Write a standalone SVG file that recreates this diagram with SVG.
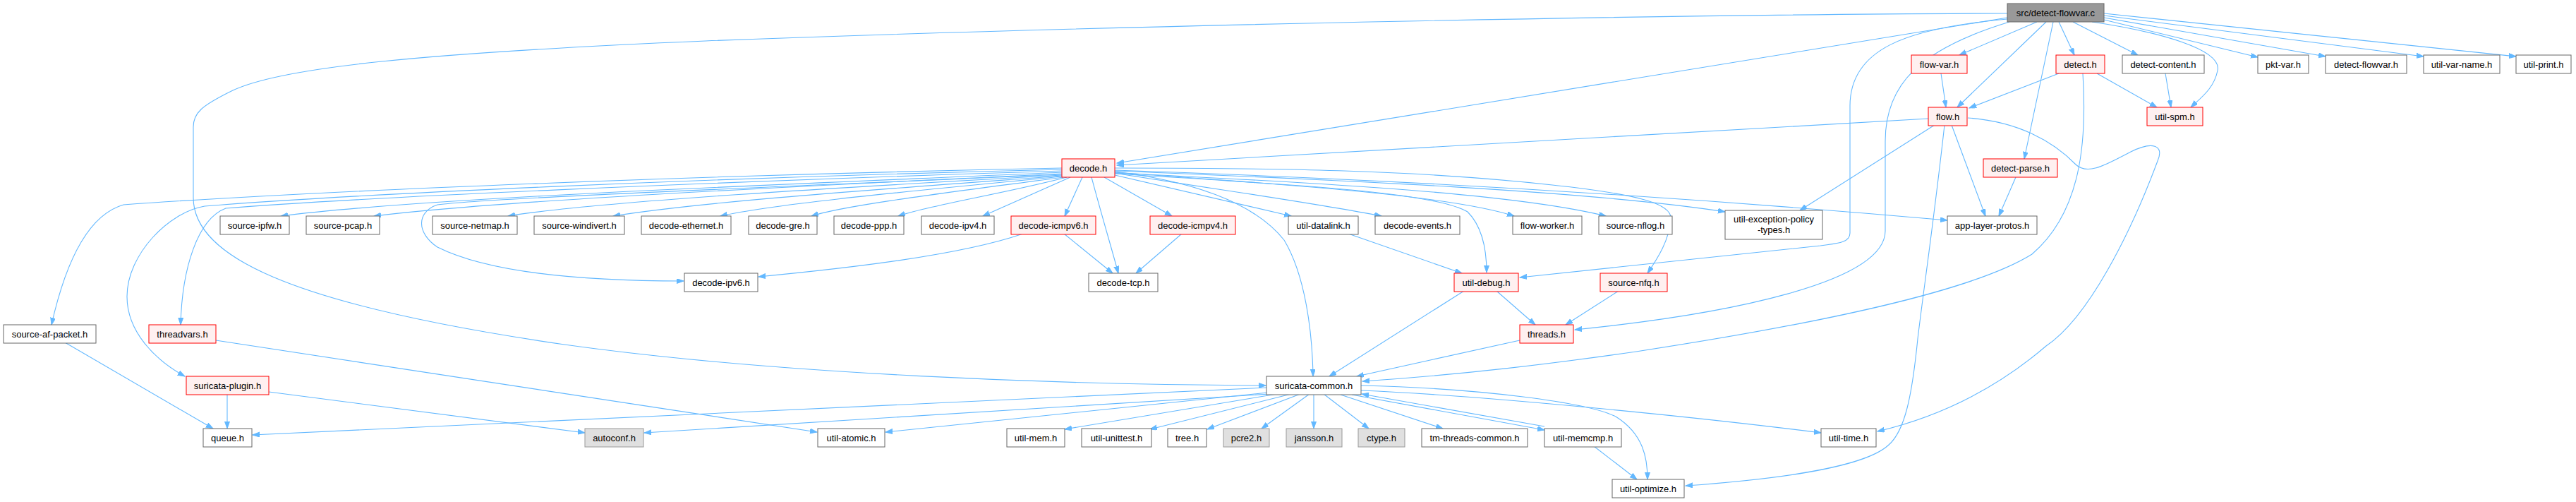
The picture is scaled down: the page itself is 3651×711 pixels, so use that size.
<svg xmlns="http://www.w3.org/2000/svg" width="3651" height="711" viewBox="0 0 3651 711">
<defs>
<marker id="a" markerWidth="11" markerHeight="8" refX="10" refY="3.5" orient="auto" markerUnits="userSpaceOnUse"><path d="M0,0 L10,3.5 L0,7 z" fill="#63b8ff" stroke="#63b8ff" stroke-width="1"/></marker>
<style>
.n rect{fill:#ffffff;stroke:#666666;stroke-width:1}
.r rect{fill:#fff0f0;stroke:#ff0000;stroke-width:1}
.g rect{fill:#e0e0e0;stroke:#999999;stroke-width:1}
.root rect{fill:#999999;stroke:#666666;stroke-width:1}
text{font-family:"Liberation Sans",Arial,sans-serif;font-size:13px;text-anchor:middle;fill:#000000}
#edges path{fill:none;stroke:#63b8ff;stroke-width:1.1;marker-end:url(#a)}
</style>
</defs>
<rect width="3651" height="711" fill="#ffffff"/>
<g id="edges">
<path d="M2845,25 L1583,231"/>
<path d="M2845,19 C2400,20 1600,35 1000,58 C600,75 400,95 330,128 C285,150 274,160 274,180 L274,280 C274,360 400,430 800,488 C1100,530 1500,545 1794,546"/>
<path d="M2845,27 C2700,40 2622,70 2622,150 L2622,330 C2622,345 2600,345 2580,348 L2154,393"/>
<path d="M2848,31 C2720,70 2672,120 2672,200 L2672,327 C2672,400 2450,445 2232,467"/>
<path d="M2887,31 L2777,78"/>
<path d="M2900,31 L2774,152"/>
<path d="M2910,31 L2869,225"/>
<path d="M2918,31 L2940,78"/>
<path d="M2938,31 L3030,78"/>
<path d="M2965,31 C3060,45 3150,70 3143,100 C3138,125 3120,138 3105,152"/>
<path d="M2982,28 L3200,81"/>
<path d="M2982,25 L3296,80"/>
<path d="M2982,22 L3435,80"/>
<path d="M2982,19 L3566,80"/>
<path d="M2751,104 L2758,152"/>
<path d="M2918,104 L2791,153"/>
<path d="M2972,104 L3057,152"/>
<path d="M2952,104 C2958,200 2950,300 2880,360 C2800,410 2600,455 2319,498 C2200,515 2080,530 1931,540"/>
<path d="M3069,104 L3077,152"/>
<path d="M2733,168 L1583,234"/>
<path d="M2742,177 L2551,298"/>
<path d="M2766,177 L2814,306"/>
<path d="M2756,177 C2740,320 2725,420 2718,480 C2710,560 2700,610 2677,630 C2640,665 2500,680 2389,688"/>
<path d="M2789,167 C2860,172 2910,200 2942,233 C2960,250 2990,230 3020,215 C3050,200 3068,205 3058,228 C3020,330 2960,450 2900,490 C2830,550 2750,590 2661,611"/>
<path d="M2857,251 L2833,306"/>
<path d="M1505,238 C1000,248 450,270 175,290 C140,300 100,340 73,460"/>
<path d="M1505,240 C1000,252 500,275 290,292 C240,300 180,360 180,420 C180,470 220,510 262,533"/>
<path d="M1505,242 C1000,258 500,280 320,295 C280,310 258,380 256,460"/>
<path d="M1505,244 C1100,262 600,280 398,306"/>
<path d="M1505,246 C1100,265 700,285 530,306"/>
<path d="M1505,247 C1100,265 700,280 620,290 C590,300 590,330 620,350 C700,390 850,398 969,398"/>
<path d="M1505,248 C1200,265 850,285 720,306"/>
<path d="M1505,249 C1250,268 1000,285 869,306"/>
<path d="M1505,250 C1300,270 1100,288 1021,306"/>
<path d="M1507,251 C1350,272 1200,290 1150,306"/>
<path d="M1512,251 C1420,275 1320,290 1273,306"/>
<path d="M1517,251 L1393,306"/>
<path d="M1534,251 L1509,306"/>
<path d="M1547,251 C1560,300 1575,350 1585,387"/>
<path d="M1565,251 L1661,306"/>
<path d="M1580,248 L1830,306"/>
<path d="M1580,245 C1700,265 1850,285 1958,306"/>
<path d="M1580,243 C1700,258 1780,290 1820,340 C1850,390 1860,470 1861,533"/>
<path d="M1580,244 C1800,260 2050,275 2146,306"/>
<path d="M1580,245 C1900,260 2150,275 2276,306"/>
<path d="M1580,242 C1900,255 2250,270 2445,300"/>
<path d="M1580,241 C2000,255 2400,280 2760,312"/>
<path d="M1580,246 C1800,260 2030,270 2080,300 C2100,320 2107,350 2107,386"/>
<path d="M1580,238 C1800,238 2000,240 2200,262 C2330,276 2370,290 2368,310 C2366,340 2350,365 2335,387"/>
<path d="M1450,331 C1360,362 1200,380 1075,392"/>
<path d="M1508,331 L1577,387"/>
<path d="M1675,331 L1610,387"/>
<path d="M1911,331 L2072,387"/>
<path d="M2121,412 L2176,460"/>
<path d="M2294,412 L2219,460"/>
<path d="M2075,412 L1884,533"/>
<path d="M2154,482 L1923,533"/>
<path d="M92,485 L302,607"/>
<path d="M306,482 L1158,612"/>
<path d="M322,559 L322,607"/>
<path d="M381,555 L829,613"/>
<path d="M1795,549 L358,616"/>
<path d="M1800,558 L913,613"/>
<path d="M1797,556 L1255,612"/>
<path d="M1810,558 L1509,608"/>
<path d="M1830,558 L1630,608"/>
<path d="M1843,558 L1711,608"/>
<path d="M1856,558 L1788,607"/>
<path d="M1862,558 L1862,607"/>
<path d="M1876,558 L1940,607"/>
<path d="M1900,559 L2045,607"/>
<path d="M1916,559 L2189,609"/>
<path d="M2189,604 L1930,558"/>
<path d="M1929,553 C2100,560 2400,590 2581,613"/>
<path d="M1929,546 C2100,550 2250,570 2290,590 C2330,615 2335,650 2335,679"/>
<path d="M2259,632 L2320,679"/>
</g>
<g id="n_root" class="root"><rect x="2845" y="5" width="137" height="26"/><text x="2913.5" y="22.5">src/detect-flowvar.c</text></g>
<g id="n_flowvar" class="r"><rect x="2709" y="78" width="79" height="26"/><text x="2748.5" y="95.5">flow-var.h</text></g>
<g id="n_detect" class="r"><rect x="2914" y="78" width="69" height="26"/><text x="2948.5" y="95.5">detect.h</text></g>
<g id="n_detectcontent" class="n"><rect x="3008" y="78" width="116" height="26"/><text x="3066" y="95.5">detect-content.h</text></g>
<g id="n_pktvar" class="n"><rect x="3200" y="78" width="72" height="26"/><text x="3236" y="95.5">pkt-var.h</text></g>
<g id="n_detectflowvar" class="n"><rect x="3296" y="78" width="115" height="26"/><text x="3353.5" y="95.5">detect-flowvar.h</text></g>
<g id="n_utilvarname" class="n"><rect x="3435" y="78" width="108" height="26"/><text x="3489" y="95.5">util-var-name.h</text></g>
<g id="n_utilprint" class="n"><rect x="3566" y="78" width="78" height="26"/><text x="3605" y="95.5">util-print.h</text></g>
<g id="n_flow" class="r"><rect x="2733" y="152" width="55" height="26"/><text x="2760.5" y="169.5">flow.h</text></g>
<g id="n_utilspm" class="r"><rect x="3043" y="152" width="79" height="26"/><text x="3082.5" y="169.5">util-spm.h</text></g>
<g id="n_decode" class="r"><rect x="1505" y="225" width="75" height="26"/><text x="1542.5" y="242.5">decode.h</text></g>
<g id="n_detectparse" class="r"><rect x="2811" y="225" width="105" height="26"/><text x="2863.5" y="242.5">detect-parse.h</text></g>
<g id="n_sourceipfw" class="n"><rect x="312" y="306" width="98" height="26"/><text x="361" y="323.5">source-ipfw.h</text></g>
<g id="n_sourcepcap" class="n"><rect x="434" y="306" width="104" height="26"/><text x="486" y="323.5">source-pcap.h</text></g>
<g id="n_sourcenetmap" class="n"><rect x="613" y="306" width="120" height="26"/><text x="673" y="323.5">source-netmap.h</text></g>
<g id="n_sourcewindivert" class="n"><rect x="757" y="306" width="128" height="26"/><text x="821" y="323.5">source-windivert.h</text></g>
<g id="n_decodeethernet" class="n"><rect x="909" y="306" width="127" height="26"/><text x="972.5" y="323.5">decode-ethernet.h</text></g>
<g id="n_decodegre" class="n"><rect x="1061" y="306" width="97" height="26"/><text x="1109.5" y="323.5">decode-gre.h</text></g>
<g id="n_decodeppp" class="n"><rect x="1182" y="306" width="99" height="26"/><text x="1231.5" y="323.5">decode-ppp.h</text></g>
<g id="n_decodeipv4" class="n"><rect x="1306" y="306" width="103" height="26"/><text x="1357.5" y="323.5">decode-ipv4.h</text></g>
<g id="n_decodeicmpv6" class="r"><rect x="1433" y="306" width="120" height="26"/><text x="1493" y="323.5">decode-icmpv6.h</text></g>
<g id="n_decodeicmpv4" class="r"><rect x="1630" y="306" width="121" height="26"/><text x="1690.5" y="323.5">decode-icmpv4.h</text></g>
<g id="n_utildatalink" class="n"><rect x="1826" y="306" width="99" height="26"/><text x="1875.5" y="323.5">util-datalink.h</text></g>
<g id="n_decodeevents" class="n"><rect x="1949" y="306" width="120" height="26"/><text x="2009" y="323.5">decode-events.h</text></g>
<g id="n_flowworker" class="n"><rect x="2144" y="306" width="98" height="26"/><text x="2193" y="323.5">flow-worker.h</text></g>
<g id="n_sourcenflog" class="n"><rect x="2266" y="306" width="104" height="26"/><text x="2318" y="323.5">source-nflog.h</text></g>
<g id="n_utilexception" class="n"><rect x="2445" y="298" width="138" height="41"/><text x="2514" y="315">util-exception-policy</text><text x="2514" y="330">-types.h</text></g>
<g id="n_applayerprotos" class="n"><rect x="2760" y="306" width="127" height="26"/><text x="2823.5" y="323.5">app-layer-protos.h</text></g>
<g id="n_decodeipv6" class="n"><rect x="970" y="387" width="104" height="26"/><text x="1022" y="404.5">decode-ipv6.h</text></g>
<g id="n_decodetcp" class="n"><rect x="1543" y="387" width="98" height="26"/><text x="1592" y="404.5">decode-tcp.h</text></g>
<g id="n_utildebug" class="r"><rect x="2061" y="387" width="91" height="26"/><text x="2106.5" y="404.5">util-debug.h</text></g>
<g id="n_sourcenfq" class="r"><rect x="2268" y="387" width="95" height="26"/><text x="2315.5" y="404.5">source-nfq.h</text></g>
<g id="n_sourceafpacket" class="n"><rect x="5" y="460" width="131" height="26"/><text x="70.5" y="477.5">source-af-packet.h</text></g>
<g id="n_threadvars" class="r"><rect x="211" y="460" width="95" height="26"/><text x="258.5" y="477.5">threadvars.h</text></g>
<g id="n_threads" class="r"><rect x="2154" y="460" width="76" height="26"/><text x="2192" y="477.5">threads.h</text></g>
<g id="n_suricataplugin" class="r"><rect x="264" y="533" width="117" height="26"/><text x="322.5" y="550.5">suricata-plugin.h</text></g>
<g id="n_suricatacommon" class="n"><rect x="1795" y="533" width="134" height="26"/><text x="1862" y="550.5">suricata-common.h</text></g>
<g id="n_queue" class="n"><rect x="288" y="607" width="69" height="26"/><text x="322.5" y="624.5">queue.h</text></g>
<g id="n_autoconf" class="g"><rect x="829" y="607" width="83" height="26"/><text x="870.5" y="624.5">autoconf.h</text></g>
<g id="n_utilatomic" class="n"><rect x="1159" y="607" width="95" height="26"/><text x="1206.5" y="624.5">util-atomic.h</text></g>
<g id="n_utilmem" class="n"><rect x="1427" y="607" width="82" height="26"/><text x="1468" y="624.5">util-mem.h</text></g>
<g id="n_utilunittest" class="n"><rect x="1533" y="607" width="99" height="26"/><text x="1582.5" y="624.5">util-unittest.h</text></g>
<g id="n_tree" class="n"><rect x="1655" y="607" width="55" height="26"/><text x="1682.5" y="624.5">tree.h</text></g>
<g id="n_pcre2" class="g"><rect x="1734" y="607" width="65" height="26"/><text x="1766.5" y="624.5">pcre2.h</text></g>
<g id="n_jansson" class="g"><rect x="1823" y="607" width="79" height="26"/><text x="1862.5" y="624.5">jansson.h</text></g>
<g id="n_ctype" class="g"><rect x="1925" y="607" width="66" height="26"/><text x="1958" y="624.5">ctype.h</text></g>
<g id="n_tmthreadscommon" class="n"><rect x="2015" y="607" width="150" height="26"/><text x="2090" y="624.5">tm-threads-common.h</text></g>
<g id="n_utilmemcmp" class="n"><rect x="2189" y="607" width="109" height="26"/><text x="2243.5" y="624.5">util-memcmp.h</text></g>
<g id="n_utiltime" class="n"><rect x="2581" y="607" width="78" height="26"/><text x="2620" y="624.5">util-time.h</text></g>
<g id="n_utiloptimize" class="n"><rect x="2285" y="679" width="102" height="26"/><text x="2336" y="696.5">util-optimize.h</text></g>
</svg>
